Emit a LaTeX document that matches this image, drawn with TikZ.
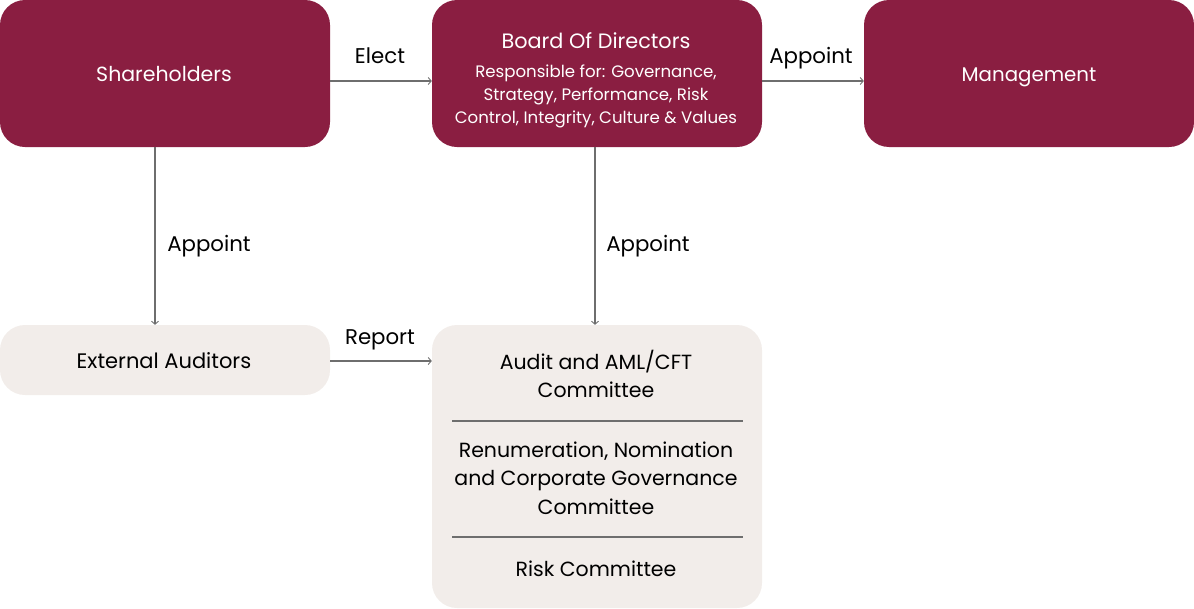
\documentclass[tikz,border=0pt]{standalone}
\usepackage{fontspec}
\setmainfont{Poppins}
\usetikzlibrary{arrows.meta}
\definecolor{maroon}{HTML}{8A1E41}
\definecolor{beige}{HTML}{F2EDEA}
\definecolor{linegray}{HTML}{6E6E6E}
\tikzset{
  darkbox/.style={fill=maroon, rounded corners=25pt, inner sep=0pt},
  lightbox/.style={fill=beige, rounded corners=25pt, inner sep=0pt},
  conn/.style={draw=linegray, line width=1.2pt, -{Straight Barb[length=3pt,width=7pt,line width=0.9pt]}},
  lbl/.style={text height=15.3pt, text depth=0pt, inner sep=0pt, font=\fontsize{21.3}{24}\selectfont, text=black},
  wtxt/.style={text height=14.8pt, text depth=0pt, inner sep=0pt, font=\fontsize{20.2}{24}\selectfont, text=white},
  txt/.style={text height=15.1pt, text depth=0pt, inner sep=0pt, font=\fontsize{21}{28.5}\selectfont, text=black},
  mtxt/.style={inner sep=0pt, font=\fontsize{20.5}{28.5}\selectfont, text=black, align=center},
  sub/.style={inner sep=0pt, font=\fontsize{16.6}{23}\selectfont, text=white, align=center},
  sep/.style={draw=linegray, line width=1.2pt}
}
\begin{document}
\begin{tikzpicture}[x=1pt,y=-1pt]
\useasboundingbox (0,0) rectangle (1194,608);
% boxes
\node[darkbox, minimum width=330pt, minimum height=147pt] (sh) at (165,73.5) {};
\node[wtxt, font=\fontsize{20.5}{24}\selectfont] (shT) at (164,74) {Shareholders};
\node[darkbox, minimum width=330pt, minimum height=147pt] (bod) at (597,73.5) {};
\node[wtxt, font=\fontsize{20.8}{24}\selectfont] (bodT) at (596,41) {Board Of Directors};
\node[sub] (bodS) at (596,96) {Responsible for: Governance,\\Strategy, Performance, Risk\\Control, Integrity, Culture \& Values};
\node[darkbox, minimum width=330pt, minimum height=147pt] (mg) at (1029,73.5) {};
\node[wtxt, font=\fontsize{19.8}{24}\selectfont] (mgT) at (1029,74) {Management};
\node[lightbox, minimum width=330pt, minimum height=70pt] (ea) at (165,360) {};
\node[txt] (eaT) at (164,361) {External Auditors};
\node[lightbox, minimum width=330pt, minimum height=283pt] (cm) at (597,466.5) {};
\node[mtxt] (c1) at (596,374) {Audit and AML/CFT\\Committee};
\node[mtxt] (c2) at (596,478) {Renumeration, Nomination\\and Corporate Governance\\Committee};
\node[txt, font=\fontsize{20.5}{28.5}\selectfont] (c3) at (596,569) {Risk Committee};
\coordinate (s1a) at (452,421); \coordinate (s1b) at (743,421);
\coordinate (s2a) at (452,537); \coordinate (s2b) at (743,537);
\draw[sep] (s1a) -- (s1b);
\draw[sep] (s2a) -- (s2b);
% connectors
\draw[conn] (sh.east |- 0,81) -- (bod.west |- 0,81);
\draw[conn] (bod.east |- 0,81) -- (mg.west |- 0,81);
\draw[conn] (sh.south -| 155,0) -- (ea.north -| 155,0);
\draw[conn] (bod.south -| 595,0) -- (cm.north -| 595,0);
\draw[conn] (ea.east |- 0,361) -- (cm.west |- 0,361);
% labels
\node[lbl] (l1) at (380,56) {Elect};
\node[lbl] (l2) at (811,56) {Appoint};
\node[lbl] (l3) at (209,244) {Appoint};
\node[lbl] (l4) at (648,244) {Appoint};
\node[lbl] (l5) at (380,337) {Report};
\end{tikzpicture}
\end{document}
